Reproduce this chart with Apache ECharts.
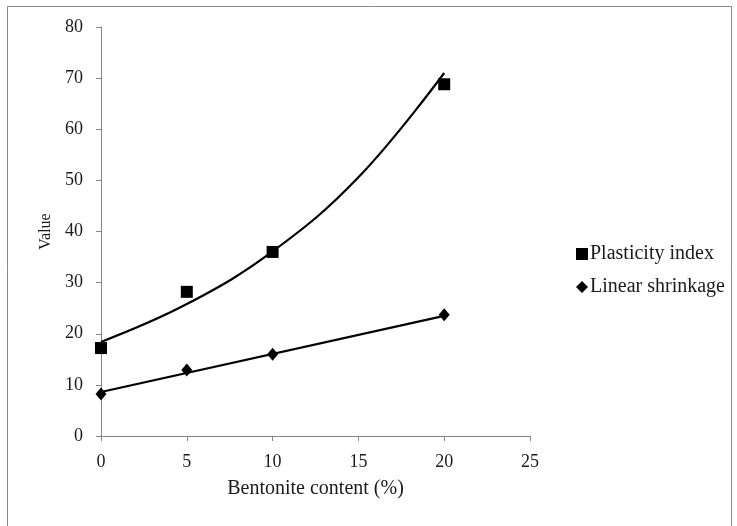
<!DOCTYPE html>
<html>
<head>
<meta charset="utf-8">
<script src="https://cdn.jsdelivr.net/npm/echarts@6/dist/echarts.min.js"></script>
<style>
  html, body { margin: 0; padding: 0; background: #fff; }
  #chart { width: 737px; height: 526px; }
</style>
</head>
<body>
<div id="chart"></div>
<script>
// bentonite content (%)
var bentonite = [0, 5, 10, 20];
var plasticityIndex = [17.2, 28.2, 36.0, 68.8];
var linearShrinkage = [8.2, 12.9, 16.0, 23.7];

// trend lines
var trendX = [0, 5, 10, 15, 20];
var plasticityTrend = [18.4, 25.8, 36.1, 50.6, 71.0];
var shrinkTrendX = [0, 20];
var shrinkTrend = [8.6, 23.5];

function pairs(xs, ys) {
    var out = [];
    for (var i = 0; i < xs.length; i++) out.push([xs[i], ys[i]]);
    return out;
}

var font = '"Liberation Serif", "Times New Roman", serif';
var axisGrey = '#868686';
var textCol = '#1a1a1a';

var chart = echarts.init(document.getElementById('chart'));
var option = {
    animation: false,
    backgroundColor: '#fff',
    textStyle: { fontFamily: font, color: textCol },
    graphic: [{
        type: 'rect',
        shape: { x: 7.5, y: 6.5, width: 724, height: 530 },
        style: { fill: 'none', stroke: '#8a8a8a', lineWidth: 1 },
        silent: true
    }],
    grid: { left: 101, right: 207, top: 27, bottom: 90 },
    legend: {
        data: [
            { name: 'Plasticity index', icon: 'rect' },
            { name: 'Linear shrinkage', icon: 'diamond' }
        ],
        orient: 'vertical',
        left: 571,
        top: 239,
        itemWidth: 12,
        itemHeight: 12,
        itemGap: 13,
        textStyle: { fontFamily: font, fontSize: 20, color: textCol, padding: [0, 0, 0, -3] }
    },
    xAxis: {
        type: 'value',
        min: 0, max: 25, interval: 5,
        name: 'Bentonite content (%)',
        nameLocation: 'middle',
        nameGap: 43,
        nameTextStyle: { fontFamily: font, fontSize: 20, color: textCol },
        axisLine: { lineStyle: { color: axisGrey } },
        axisTick: { show: true, length: 5, lineStyle: { color: axisGrey } },
        axisLabel: { fontFamily: font, fontSize: 18, color: textCol, margin: 17 },
        splitLine: { show: false }
    },
    yAxis: {
        type: 'value',
        min: 0, max: 80, interval: 10,
        name: 'Value',
        nameLocation: 'middle',
        nameGap: 46,
        nameRotate: 90,
        nameTextStyle: { fontFamily: font, fontSize: 16, color: textCol },
        axisLine: { show: true, lineStyle: { color: axisGrey } },
        axisTick: { show: true, length: 5, lineStyle: { color: axisGrey } },
        axisLabel: { fontFamily: font, fontSize: 18, color: textCol, margin: 18 },
        splitLine: { show: false }
    },
    series: [{
        name: 'Plasticity trend',
        type: 'line',
        data: pairs(trendX, plasticityTrend),
        smooth: 0.4,
        showSymbol: false,
        lineStyle: { color: '#000', width: 2.2 },
        z: 2
    }, {
        name: 'Shrinkage trend',
        type: 'line',
        data: pairs(shrinkTrendX, shrinkTrend),
        showSymbol: false,
        lineStyle: { color: '#000', width: 2.2 },
        z: 2
    }, {
        name: 'Plasticity index',
        type: 'scatter',
        data: pairs(bentonite, plasticityIndex),
        symbol: 'rect',
        symbolSize: 12,
        itemStyle: { color: '#000', opacity: 1 },
        z: 3
    }, {
        name: 'Linear shrinkage',
        type: 'scatter',
        data: pairs(bentonite, linearShrinkage),
        symbol: 'diamond',
        symbolSize: [11, 13],
        itemStyle: { color: '#000', opacity: 1 },
        z: 3
    }]
};
chart.setOption(option);
</script>
</body>
</html>
